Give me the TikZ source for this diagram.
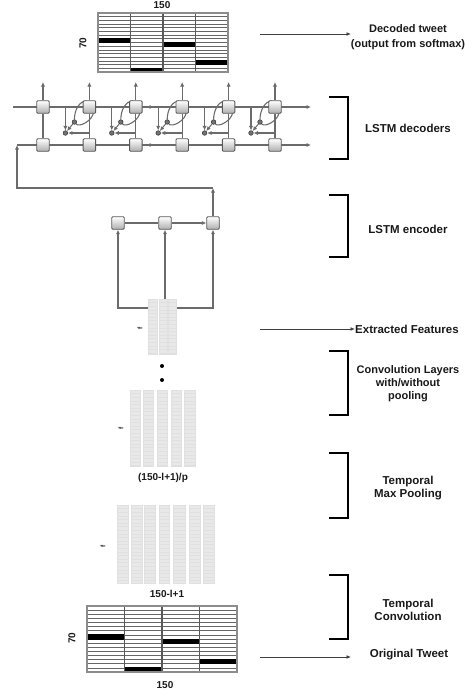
\documentclass[tikz,border=0pt]{standalone}
\usepackage{fontspec}
\setmainfont{Liberation Sans}
\usetikzlibrary{arrows.meta,backgrounds}
\newcommand\tweetgrid[4]{%
  \foreach \k in {1,...,15} \draw[gridl] (#1,{#2+\k*#4}) -- ({#1+4*#3},{#2+\k*#4});
  \foreach \j/\k in {0/7,1/15,2/8,3/13} \fill[black] ({#1+\j*#3},{#2+\k*#4-0.5}) rectangle ({#1+(\j+1)*#3},{#2+(\k+1)*#4+0.5});
  \foreach \j in {1,2,3} \draw[coll] ({#1+\j*#3},#2) -- ({#1+\j*#3},{#2+16*#4});
  \draw[matframe] (#1,#2) rectangle ({#1+4*#3},{#2+16*#4});
}
\newcommand\featcol[4]{%
  \fill[featfill] (#1,#3) rectangle (#2,#4);
  \pgfmathsetmacro\fca{#3+3.6}\pgfmathsetmacro\fcb{#3+7.2}
  \foreach \yy in {\fca,\fcb,...,#4} \draw[featline] (#1,\yy) -- (#2,\yy);
  \draw[featedge] (#1,#3) rectangle (#2,#4);
}
\begin{document}
\begin{tikzpicture}[x=1pt,y=-1pt,
  lab/.style={font=\fontsize{11.5}{13}\selectfont\bfseries, text=black!90, align=center, inner sep=0},
  small/.style={font=\fontsize{10}{12}\selectfont\bfseries, text=black!90, inner sep=0},
  flab/.style={font=\fontsize{6.5}{6.5}\selectfont\bfseries, text=black!90, inner sep=0, rotate=90},
  cell/.style={draw=black!65, line width=0.9pt, rounded corners=1pt, top color=white, bottom color=black!32, minimum size=12.5pt, inner sep=0},
  wire/.style={draw=black!58, line width=1.3pt},
  tip/.style={-{Latex[length=4.5pt,width=4.2pt]}},
  larrow/.style={draw=black!75, line width=0.9pt, -{Latex[length=4.5pt,width=3.8pt]}},
  brk/.style={draw=black, line width=2.4pt, line join=miter},
  dotc/.style={circle, fill=black!55, draw=black!80, line width=0.5pt, inner sep=0, minimum size=4.6pt},
  bigdot/.style={circle, fill=black, inner sep=0, minimum size=4pt},
  gridl/.style={draw=black!60, line width=0.7pt},
  coll/.style={draw=black!65, line width=1.1pt},
  matframe/.style={draw=black!45, line width=1.1pt},
  featfill/.style={fill=black!9},
  featline/.style={draw=black!12, line width=0.4pt},
  featedge/.style={draw=black!12, line width=0.5pt},
]
\useasboundingbox (0,0) rectangle (464,696);

% ---------- output matrix ----------
\tweetgrid{98}{13}{32.5}{3.6875}
\node[small] (top150) at (162,5) {150};
\node[small, rotate=90] (top70) at (83,43) {70};
\node[lab, font=\fontsize{11}{15}\selectfont\bfseries] (dec) at (408,37) {Decoded tweet\\(output from softmax)};
\coordinate (da1) at (260,34);
\coordinate (da2) at (351,34);
\draw[larrow] (da1) -- (da2);

% ---------- LSTM decoders ----------
\foreach \i in {0,...,5}{
  \pgfmathsetmacro\xx{43+46.4*\i}
  \node[cell] (t\i) at (\xx,107) {};
  \node[cell] (b\i) at (\xx,145) {};
  \coordinate (o\i) at (\xx,82);
}
\foreach \i in {1,...,5}{
  \pgfmathsetmacro\xx{43+46.4*\i}
  \node[dotc] (A\i) at (\xx-15,122) {};
  \node[dotc] (B\i) at (\xx-24,133) {};
  \coordinate (L\i) at (\xx-3,101);
  \coordinate (R\i) at (\xx+4,112);
}
\coordinate (tl) at (13,107);
\coordinate (tr) at (311,107);
\coordinate (bl) at (17,145);
\coordinate (br) at (311,145);
\coordinate (m1) at (154,107);
\coordinate (m2) at (154,145);

% ---------- LSTM encoder ----------
\node[cell] (e1) at (118,223) {};
\node[cell] (e2) at (165,223) {};
\node[cell] (e3) at (213,223) {};
\coordinate (fb1) at (213,188);
\coordinate (fb2) at (17,188);

\begin{pgfonlayer}{background}
  \draw[wire,tip] (tl) -- (tr);
  \draw[wire,tip] (bl) -- (br);
  \draw[wire,tip] (t2) -- (m1);
  \draw[wire,tip] (b2) -- (m2);
  \foreach \i in {0,...,5}{
    \draw[wire] (t\i) -- (b\i);
    \draw[wire,tip] (t\i) -- (o\i);
  }
  \foreach \i in {1,...,5}{
    \draw[wire,tip] (t\i |- B\i) -- (B\i);
    \draw[wire,tip] (B\i |- t\i) -- (B\i);
    \draw[wire,tip,line width=1pt] (A\i) -- (B\i);
    \draw[wire,line width=1.1pt] (A\i) .. controls +(0,-12) and +(-7,0) .. (L\i);
    \draw[wire,line width=1.1pt] (A\i) .. controls +(5,6) and +(0,8) .. (R\i);
  }
  \draw[wire] (e1) -- (e2);
  \draw[wire,tip] (e2) -- (e3);
  \draw[wire,tip] (e3) -- (fb1);
  \draw[wire,tip] (fb1) -- (fb2) -- (bl);
\end{pgfonlayer}

% ---------- extracted features ----------
\featcol{148}{157}{299}{354}
\featcol{159}{167}{299}{354}
\featcol{168}{176}{299}{354}
\node[inner sep=0, minimum width=28pt, minimum height=55pt] (feat) at (162,326.5) {};
\coordinate (fl) at (148,308);
\coordinate (fr) at (176,308);
\begin{pgfonlayer}{background}
  \draw[wire,tip] (fl) -| (e1);
  \draw[wire,tip] (e2 |- feat.north) -- (e2);
  \draw[wire,tip] (fr) -| (e3);
\end{pgfonlayer}
\node[flab] (f1) at (140,328) {f};
\node[bigdot] (d1) at (162,366) {};
\node[bigdot] (d2) at (162,380) {};

% ---------- convolution layers ----------
\featcol{130}{140}{390}{466}
\featcol{143}{153}{390}{466}
\featcol{157}{167}{390}{466}
\featcol{171}{181}{390}{466}
\featcol{184}{195}{390}{466}
\node[flab] (f2) at (121,428) {f};
\node[small] (convsz) at (163,478) {(150-l+1)/p};

% ---------- temporal max pooling ----------
\featcol{117}{128}{505}{583}
\featcol{131}{142}{505}{583}
\featcol{144}{155}{505}{583}
\featcol{159}{169}{505}{583}
\featcol{173}{185}{505}{583}
\featcol{189}{200}{505}{583}
\featcol{203}{214}{505}{583}
\node[flab] (f3) at (103,546) {f};
\node[small] (poolsz) at (167,594) {150-l+1};

% ---------- input matrix ----------
\tweetgrid{87}{606}{37.5}{4.125}
\node[small, rotate=90] (bot70) at (72,638) {70};
\node[small] (bot150) at (165,685) {150};

% ---------- brackets and labels ----------
\draw[brk] (329,97) -- (348,97) -- (348,159) -- (329,159);
\draw[brk] (329,195) -- (348,195) -- (348,257) -- (329,257);
\draw[brk] (329,351) -- (348,351) -- (348,415) -- (329,415);
\draw[brk] (329,453) -- (348,453) -- (348,518) -- (329,518);
\draw[brk] (329,575) -- (348,575) -- (348,639) -- (329,639);

\node[lab] (ldec) at (408,128) {LSTM decoders};
\node[lab] (lenc) at (408,229) {LSTM encoder};
\node[lab, anchor=west] (lfeat) at (355,329) {Extracted Features};
\coordinate (ea1) at (260,329);
\draw[larrow] (ea1) -- (lfeat.west);
\node[lab, font=\fontsize{11}{13}\selectfont\bfseries] (lconv) at (408,384) {Convolution Layers\\with/without\\pooling};
\node[lab] (lpool) at (408,488.5) {Temporal\\Max Pooling};
\node[lab] (ltconv) at (408,610) {Temporal\\Convolution};
\node[lab] (lorig) at (409,655) {Original Tweet};
\coordinate (oa1) at (260,657);
\coordinate (oa2) at (351,657);
\draw[larrow] (oa1) -- (oa2);
\end{tikzpicture}
\end{document}
